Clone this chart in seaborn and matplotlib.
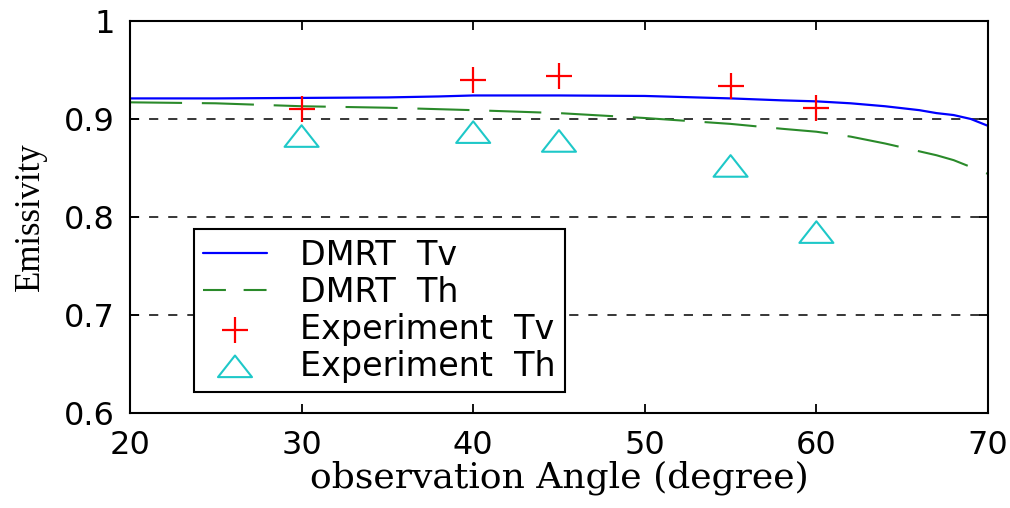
import matplotlib
matplotlib.use('Agg')
import numpy as np
import pandas as pd
import seaborn as sns
import matplotlib.pyplot as plt
from matplotlib.path import Path

# DMRT model curves
dmrt_angle = [20, 25, 30, 35, 38, 40, 45, 50, 55, 58, 60, 62, 64, 66, 67, 68, 69, 70]
dmrt_tv = [0.921, 0.921, 0.9215, 0.922, 0.923, 0.924, 0.924, 0.9235, 0.921, 0.919,
           0.918, 0.916, 0.913, 0.909, 0.906, 0.904, 0.900, 0.893]
dmrt_th = [0.917, 0.916, 0.913, 0.9115, 0.910, 0.909, 0.906, 0.901, 0.895, 0.890,
           0.887, 0.882, 0.875, 0.867, 0.863, 0.858, 0.851, 0.844]

# measurements
exp_angle = [30, 40, 45, 55, 60]
exp_tv = [0.910, 0.9395, 0.944, 0.934, 0.9115]
exp_th = [0.882, 0.886, 0.877, 0.8515, 0.784]

x_ticks = [20, 30, 40, 50, 60, 70]
y_ticks = [0.6, 0.7, 0.8, 0.9, 1.0]
y_tick_labels = ['0.6', '0.7', '0.8', '0.9', '1']

dmrt = pd.DataFrame({'angle': dmrt_angle, 'tv': dmrt_tv, 'th': dmrt_th})
exp = pd.DataFrame({'angle': exp_angle, 'tv': exp_tv, 'th': exp_th})

sns.set_style('ticks')
plt.rcParams['font.family'] = ['DejaVu Sans']
plt.rcParams['text.color'] = 'black'
plt.rcParams['axes.labelcolor'] = 'black'
plt.rcParams['legend.facecolor'] = 'white'
plt.rcParams['legend.framealpha'] = 1.0

fig = plt.figure(figsize=(10.1, 5.08), dpi=100)
ax = fig.add_axes([0.1287, 0.187, 0.8495, 0.7717])

sns.lineplot(data=dmrt, x='angle', y='tv', ax=ax, color='#0000ff', linewidth=1.6,
             label='DMRT  Tv', legend=False)
sns.lineplot(data=dmrt, x='angle', y='th', ax=ax, color='#2a8a2a', linewidth=1.5,
             dashes=False, label='DMRT  Th', legend=False)
ax.lines[-1].set_dashes((25, 9.5))

sns.scatterplot(data=exp, x='angle', y='tv', ax=ax, marker='+', s=361,
                color='#ff0000', linewidth=1.6, label='Experiment  Tv', zorder=3,
                legend=False)

tri = Path([(-1, -0.6), (1, -0.6), (0, 0.67), (-1, -0.6)],
           [Path.MOVETO, Path.LINETO, Path.LINETO, Path.CLOSEPOLY])
sns.scatterplot(data=exp, x='angle', y='th', ax=ax, marker=tri, s=600,
                color='#1ec8c8', facecolor='none', edgecolor='#1ec8c8',
                linewidth=1.5, label='Experiment  Th', zorder=3, legend=False)

ax.set_xlim(20, 70)
ax.set_ylim(0.6, 1.0)
ax.set_xticks(x_ticks)
ax.set_yticks(y_ticks)
ax.set_yticklabels(y_tick_labels)
ax.set_axisbelow(True)
ax.grid(axis='y', color='black', linewidth=1.1, linestyle=(0, (6, 6.5)))
ax.grid(axis='x', visible=False)

for s in ax.spines.values():
    s.set_visible(True)
    s.set_linewidth(1.5)
    s.set_color('black')
ax.tick_params(direction='in', length=6.5, width=1.3, top=True, right=True,
               labelsize=23, colors='black')
ax.tick_params(axis='x', pad=12)
ax.tick_params(axis='y', pad=11)

ax.set_xlabel('observation Angle (degree)', fontsize=26, family='DejaVu Serif',
              labelpad=0)
ax.set_ylabel('Emissivity', fontsize=25, family='Liberation Serif', labelpad=12)

if ax.get_legend() is not None:
    ax.get_legend().remove()
handles, labels = ax.get_legend_handles_labels()
leg = ax.legend(handles, labels, loc='lower left', bbox_to_anchor=(0.0746, 0.0536),
                borderaxespad=0, fontsize=24, frameon=True, fancybox=False,
                labelspacing=0.12, handlelength=1.9, handletextpad=1.0,
                borderpad=0.28)
frame = leg.get_frame()
frame.set_facecolor((1, 1, 1, 1))
frame.set_alpha(1)
frame.set_fill(True)
frame.set_edgecolor('black')
frame.set_linewidth(1.5)
leg.set_zorder(20)
leg.legend_handles[1].set_dashes((11, 8.5))
for t in leg.get_texts():
    t.set_color('black')

plt.savefig('out.png', dpi=100, facecolor='white')
